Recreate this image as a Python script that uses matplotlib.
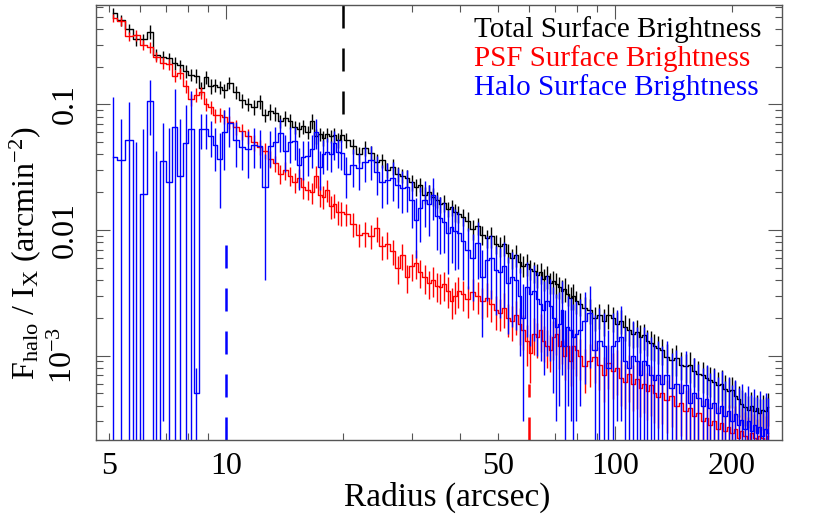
import matplotlib
matplotlib.use('Agg')
import matplotlib.pyplot as plt
from matplotlib.ticker import LogLocator, FuncFormatter, NullFormatter, FixedLocator

plt.rcParams['font.family'] = ['Liberation Serif', 'DejaVu Serif']
plt.rcParams['mathtext.fontset'] = 'custom'
plt.rcParams['mathtext.rm'] = 'Liberation Serif'
plt.rcParams['mathtext.it'] = 'Liberation Serif:italic'

# radial bin centres (arcsec)
radius = [
    5.12, 5.38, 5.62, 5.88, 6.12, 6.38, 6.62, 6.88, 7.12, 7.38,
    7.62, 7.88, 8.12, 8.38, 8.62, 8.88, 9.12, 9.38, 9.62, 9.88,
    10.2, 10.6, 11.0, 11.4, 11.8, 12.2, 12.6, 13.0, 13.4, 13.8, 14.2, 14.6, 15.0,
    15.4, 15.8, 16.2, 16.6, 17.0, 17.4, 17.8, 18.2, 18.6, 19.0, 19.4, 19.8,
    20.4, 21.2, 22.0, 22.8, 23.6, 24.4, 25.2, 26.0, 26.8, 27.6, 28.4, 29.2, 30.0,
    30.8, 31.6, 32.4, 33.2, 34.0, 34.8, 35.6, 36.4, 37.2, 38.0, 38.8, 39.6,
    40.6, 41.9, 43.1, 44.4, 45.6, 46.9, 48.1, 49.4, 50.6, 51.9, 53.1, 54.4, 55.6,
    56.9, 58.1, 59.4, 60.6, 61.9, 63.1, 64.4, 65.6, 66.9, 68.1, 69.4, 70.6, 71.9,
    73.1, 74.4, 75.6, 76.9, 78.1, 79.4,
    81.2, 83.8, 86.2, 88.8, 91.2, 93.8, 96.2, 98.8, 101.2, 103.8,
    106.2, 108.8, 111.2, 113.8, 116.2, 118.8, 121.2, 123.8, 126.2, 128.8,
    132, 136, 140, 144, 148, 152, 156, 160, 164, 168, 172, 176, 180, 184, 188,
    192, 196, 200, 204, 208, 212, 216, 220, 224, 228, 232, 236, 240, 244, 248,
]

# total surface brightness and fractional errors
total_sb = [
    0.54, 0.47, 0.40, 0.33, 0.33, 0.38, 0.25, 0.24, 0.235, 0.215,
    0.205, 0.185, 0.172, 0.17, 0.135, 0.165, 0.14, 0.142, 0.138, 0.13,
    0.148, 0.125, 0.108, 0.100, 0.096, 0.106, 0.082, 0.088, 0.085, 0.074, 0.078, 0.074, 0.066,
    0.064, 0.067, 0.060, 0.074, 0.056, 0.058, 0.054, 0.058, 0.056, 0.057, 0.052, 0.057,
    0.052, 0.047, 0.040, 0.045, 0.041, 0.035, 0.036, 0.030, 0.032, 0.028, 0.027, 0.026, 0.024,
    0.022, 0.023, 0.019, 0.020, 0.0185, 0.0175, 0.016, 0.0165, 0.0148, 0.0152, 0.0138, 0.0135,
    0.0128, 0.0118, 0.0102, 0.0108, 0.0092, 0.0086, 0.0089, 0.0078, 0.0074, 0.0077, 0.0066, 0.0060,
    0.0063, 0.0056, 0.0052, 0.0054, 0.0049, 0.0047, 0.0044, 0.0046, 0.0041, 0.0043, 0.0038, 0.0039,
    0.0037, 0.0035, 0.0033, 0.0034, 0.0031, 0.0029, 0.0030, 0.0027,
    0.0026, 0.0024, 0.0023, 0.0020, 0.0021, 0.0019, 0.0021, 0.0020, 0.0018, 0.0019,
    0.0017, 0.0016, 0.0015, 0.00155, 0.0014, 0.00145, 0.0013, 0.00125, 0.0012, 0.00115,
    0.0011, 0.00098, 0.00092, 0.00095, 0.00085, 0.00082, 0.00084, 0.00076, 0.00072, 0.00070,
    0.00066, 0.00064, 0.00062, 0.00058, 0.00060, 0.00054, 0.00052, 0.00053, 0.00048, 0.00045,
    0.00041, 0.00039, 0.00037, 0.00040, 0.00036, 0.00038, 0.00035, 0.00037, 0.00036, 0.00039,
]
total_frac_err = [
    0.09, 0.10, 0.09, 0.11, 0.10, 0.12, 0.10, 0.11, 0.10, 0.12,
    0.11, 0.12, 0.11, 0.13, 0.12, 0.12, 0.13, 0.12, 0.12, 0.13,
    0.11, 0.12, 0.13, 0.12, 0.14, 0.13, 0.12, 0.14, 0.13, 0.12, 0.14, 0.13, 0.12,
    0.14, 0.13, 0.12, 0.14, 0.13, 0.12, 0.14, 0.13, 0.12, 0.14, 0.13, 0.12,
    0.13, 0.14, 0.15, 0.13, 0.14, 0.15, 0.13, 0.14, 0.15, 0.14, 0.13, 0.15, 0.14,
    0.15, 0.13, 0.15, 0.14, 0.16, 0.14, 0.15, 0.16, 0.14, 0.15, 0.16, 0.15,
    0.16, 0.17, 0.18, 0.16, 0.18, 0.17, 0.19, 0.17, 0.18, 0.19, 0.17, 0.18,
    0.20, 0.18, 0.19, 0.20, 0.18, 0.19, 0.21, 0.19, 0.20, 0.21, 0.19, 0.20,
    0.22, 0.20, 0.21, 0.22, 0.20, 0.21, 0.23, 0.21,
    0.21, 0.22, 0.23, 0.21, 0.22, 0.24, 0.22, 0.23, 0.24, 0.22,
    0.23, 0.25, 0.23, 0.24, 0.25, 0.23, 0.24, 0.26, 0.24, 0.25,
    0.24, 0.26, 0.25, 0.27, 0.25, 0.26, 0.28, 0.26, 0.27, 0.28,
    0.26, 0.27, 0.29, 0.27, 0.28, 0.29, 0.27, 0.28, 0.30, 0.28,
    0.29, 0.30, 0.28, 0.29, 0.31, 0.29, 0.30, 0.31, 0.29, 0.30,
]

# PSF surface brightness and fractional errors
psf_sb = [
    0.49, 0.46, 0.35, 0.355, 0.30, 0.285, 0.24, 0.215, 0.21, 0.17,
    0.178, 0.14, 0.11, 0.12, 0.125, 0.10, 0.095, 0.082, 0.083, 0.08,
    0.072, 0.066, 0.061, 0.056, 0.050, 0.046, 0.043, 0.037, 0.034, 0.028, 0.030, 0.027, 0.024,
    0.026, 0.022, 0.021, 0.020, 0.027, 0.019, 0.0185, 0.021, 0.0155, 0.016, 0.014, 0.0138,
    0.0135, 0.0112, 0.0092, 0.0095, 0.0090, 0.0104, 0.0074, 0.0078, 0.0068, 0.0050, 0.0063, 0.0042, 0.0052,
    0.0055, 0.0046, 0.0042, 0.0038, 0.0040, 0.0036, 0.0035, 0.0037, 0.0033, 0.0027, 0.0030, 0.0033,
    0.0031, 0.0028, 0.0032, 0.0030, 0.0027, 0.0029, 0.0026, 0.0023, 0.0022, 0.0024, 0.0020, 0.0019,
    0.0021, 0.0018, 0.0016, 0.0013, 0.00105, 0.0015, 0.0014, 0.0016, 0.0013, 0.0012, 0.0011, 0.0014,
    0.0015, 0.0012, 0.0013, 0.0010, 0.0012, 0.0009, 0.0012, 0.0011,
    0.0010, 0.00082, 0.0009, 0.00097, 0.00085, 0.0007, 0.00088, 0.00075, 0.0008, 0.00066,
    0.00062, 0.00072, 0.0006, 0.00065, 0.00055, 0.0006, 0.00052, 0.00058, 0.0005, 0.00047,
    0.00050, 0.00044, 0.00048, 0.00040, 0.00042, 0.00036, 0.00038, 0.00033, 0.00035, 0.00030,
    0.00032, 0.00028, 0.00030, 0.00026, 0.00029, 0.00025, 0.00027, 0.00024, 0.00026, 0.00022,
    0.00025, 0.00023, 0.00021, 0.00024, 0.00022, 0.00020, 0.00023, 0.00022, 0.00021, 0.00023,
]
psf_frac_err = [
    0.08, 0.09, 0.08, 0.10, 0.09, 0.10, 0.09, 0.11, 0.10, 0.11,
    0.10, 0.12, 0.11, 0.12, 0.11, 0.12, 0.12, 0.13, 0.12, 0.13,
    0.12, 0.13, 0.14, 0.13, 0.15, 0.14, 0.15, 0.16, 0.15, 0.17, 0.16, 0.17, 0.18,
    0.17, 0.19, 0.18, 0.19, 0.20, 0.19, 0.21, 0.20, 0.21, 0.22, 0.21, 0.22,
    0.20, 0.22, 0.21, 0.23, 0.22, 0.23, 0.22, 0.24, 0.23, 0.25, 0.24, 0.25, 0.24,
    0.26, 0.25, 0.26, 0.25, 0.27, 0.26, 0.27, 0.26, 0.28, 0.27, 0.28, 0.27,
    0.27, 0.29, 0.28, 0.29, 0.28, 0.30, 0.29, 0.30, 0.29, 0.31, 0.30, 0.31,
    0.30, 0.32, 0.31, 0.36, 0.42, 0.32, 0.31, 0.33, 0.32, 0.34, 0.33, 0.34,
    0.33, 0.35, 0.34, 0.36, 0.35, 0.36, 0.35, 0.37,
    0.36, 0.38, 0.37, 0.38, 0.37, 0.39, 0.38, 0.40, 0.39, 0.40,
    0.39, 0.41, 0.40, 0.42, 0.41, 0.42, 0.41, 0.43, 0.42, 0.44,
    0.43, 0.45, 0.44, 0.46, 0.45, 0.47, 0.46, 0.48, 0.47, 0.49,
    0.48, 0.50, 0.49, 0.51, 0.50, 0.52, 0.51, 0.53, 0.52, 0.54,
    0.53, 0.55, 0.54, 0.56, 0.55, 0.57, 0.56, 0.58, 0.57, 0.59,
]

# halo surface brightness (total - PSF, can go negative) and absolute errors
halo_sb = [
    0.038, 0.036, 0.052, -0.010, 0.0194, 0.107, -0.005, 0.0355, 0.024, 0.066,
    0.027, 0.049, 0.064, 0.0005, 0.064, 0.064, 0.056, 0.0475, 0.037, 0.060,
    0.071, 0.052, 0.046, 0.044, 0.048, 0.047, 0.022, 0.047, 0.050, 0.059, 0.043, 0.050, 0.051,
    0.033, 0.038, 0.039, 0.044, 0.060, 0.032, 0.040, 0.042, 0.040, 0.049, 0.042, 0.041,
    0.028, 0.033, 0.031, 0.035, 0.036, 0.029, 0.024, 0.025, 0.026, 0.023, 0.0217, 0.022, 0.0174,
    0.012, 0.015, 0.0175, 0.016, 0.019, 0.013, 0.0125, 0.0116, 0.0095, 0.0105, 0.0098, 0.0094,
    0.0082, 0.0069, 0.0060, 0.0079, 0.0042, 0.0058, 0.0060, 0.0048, 0.0046, 0.0052, 0.0038, 0.0042,
    0.0040, 0.0030, 0.0020, 0.0035, 0.0031, 0.0033, 0.0028, 0.0026, 0.0023, 0.0027, 0.0025, 0.0020,
    0.0017, 0.0018, 0.0023, 0.0012, 0.0017, 0.0016, 0.0014, 0.0015,
    0.0016, 0.0019, 0.0022, 0.0011, 0.0013, 0.0012, 0.0008, 0.0012, 0.0013, 0.0014,
    0.0009, 0.0008, 0.0010, 0.0009, 0.0007, 0.0009, 0.00085, 0.0007, 0.00064, 0.0007,
    0.0006, 0.0007, 0.00055, 0.0006, 0.0005, 0.00058, 0.00042, 0.0005, 0.00046, 0.0004,
    0.00045, 0.00038, 0.00042, 0.00035, 0.0004, 0.00033, 0.00036, 0.0003, 0.00034, 0.00028,
    0.00031, 0.00026, 0.0003, 0.00025, 0.00028, 0.00024, 0.00027, 0.00023, 0.00026, 0.00024,
]
halo_err = [
    0.077, 0.040, 0.053, 0.060, 0.044, 0.050, 0.048, 0.0352, 0.041, 0.068,
    0.050, 0.050, 0.065, 0.0003, 0.020, 0.020, 0.018, 0.018, 0.022, 0.030,
    0.025, 0.020, 0.016, 0.018, 0.017, 0.016, 0.018, 0.015, 0.016, 0.017, 0.014, 0.016, 0.015,
    0.012, 0.013, 0.012, 0.013, 0.016, 0.011, 0.012, 0.012, 0.011, 0.013, 0.011, 0.011,
    0.010, 0.011, 0.010, 0.011, 0.011, 0.010, 0.009, 0.009, 0.009, 0.008, 0.008, 0.008, 0.007,
    0.006, 0.007, 0.007, 0.007, 0.007, 0.006, 0.006, 0.005, 0.005, 0.005, 0.005, 0.0045,
    0.0042, 0.0035, 0.0033, 0.0038, 0.0028, 0.0031, 0.0032, 0.0027, 0.0026, 0.0028, 0.0023, 0.0025,
    0.0024, 0.0020, 0.0017, 0.0021, 0.0019, 0.0020, 0.0018, 0.0017, 0.0016, 0.0017, 0.0016, 0.0015,
    0.0014, 0.0014, 0.0016, 0.0011, 0.0013, 0.0013, 0.0012, 0.0012,
    0.0012, 0.0013, 0.0014, 0.0010, 0.0011, 0.0010, 0.0008, 0.0010, 0.0010, 0.0011,
    0.0008, 0.0008, 0.0009, 0.0008, 0.0007, 0.0008, 0.0007, 0.0007, 0.0006, 0.0006,
    0.0006, 0.0006, 0.0005, 0.0005, 0.0005, 0.0005, 0.0004, 0.00045, 0.0004, 0.0004,
    0.0004, 0.00035, 0.00037, 0.00033, 0.00035, 0.0003, 0.00032, 0.00028, 0.0003, 0.00027,
    0.00028, 0.00025, 0.00027, 0.00024, 0.00026, 0.00023, 0.00025, 0.00022, 0.00024, 0.00022,
]

for arr in (total_sb, total_frac_err, psf_sb, psf_frac_err, halo_sb, halo_err):
    assert len(arr) == len(radius), len(arr)

labels = ['Total Surface Brightness', 'PSF Surface Brightness', 'Halo Surface Brightness']
colors = ['black', '#ff0000', '#0000ff']

total_err = [v * f for v, f in zip(total_sb, total_frac_err)]
psf_err = [v * f for v, f in zip(psf_sb, psf_frac_err)]

# reference radii marked with dashed lines
r_total_mark, r_halo_mark, r_psf_mark = 20, 10, 60

fig = plt.figure(figsize=(8.3, 5.18), dpi=100)
ax = fig.add_axes([0.1157, 0.1506, 0.8265, 0.8398])
ax.set_xscale('log')
ax.set_yscale('log')
xmin, xmax = 4.63, 269
ymin, ymax = 2.13e-4, 0.62
ax.set_xlim(xmin, xmax)
ax.set_ylim(ymin, ymax)

for vals, errs, c in [(total_sb, total_err, colors[0]),
                      (psf_sb, psf_err, colors[1]),
                      (halo_sb, halo_err, colors[2])]:
    ax.plot(radius, vals, drawstyle='steps-mid', color=c, lw=1.0)
    ax.errorbar(radius, vals, yerr=errs, fmt='none', ecolor=c, elinewidth=1.0, capsize=0)

ax.plot([r_total_mark, r_total_mark], [ymax, 0.08], color='black', lw=1.8, dashes=(9.2, 8))
ax.plot([r_halo_mark, r_halo_mark], [ymin, 0.01], color='#0000ff', lw=1.8, dashes=(9.2, 8))
ax.plot([r_psf_mark, r_psf_mark], [ymin, 6e-4], color='#ff0000', lw=1.8, dashes=(9.2, 8))

for i, (lab, c) in enumerate(zip(labels, colors)):
    ax.text(0.551, 0.926 - i * 0.067, lab, color=c, fontsize=21,
            transform=ax.transAxes, va='baseline', ha='left')

# ticks
spine_col = '#555555'
for s in ax.spines.values():
    s.set_color(spine_col)
    s.set_linewidth(1.0)
ax.xaxis.set_major_locator(FixedLocator([10, 100]))
ax.xaxis.set_major_formatter(FuncFormatter(lambda v, p: '%d' % round(v)))
ax.xaxis.set_minor_locator(LogLocator(base=10, subs=range(2, 10), numticks=20))
ax.xaxis.set_minor_formatter(FuncFormatter(
    lambda v, p: '%d' % round(v) if round(v) in (5, 50, 200) else ''))
ax.yaxis.set_major_locator(FixedLocator([1e-3, 1e-2, 1e-1]))
ax.yaxis.set_major_formatter(FuncFormatter(
    lambda v, p: {1e-3: r'$10^{-3}$', 1e-2: '0.01', 1e-1: '0.1'}.get(v, '')))
ax.yaxis.set_minor_locator(LogLocator(base=10, subs=range(2, 10), numticks=20))
ax.yaxis.set_minor_formatter(NullFormatter())

ax.tick_params(which='both', direction='in', top=True, right=True,
               color=spine_col, width=0.8, labelsize=23)
ax.tick_params(which='major', length=10)
ax.tick_params(which='minor', length=5)
ax.tick_params(axis='x', which='both', pad=9)
ax.tick_params(axis='y', which='both', pad=12, labelrotation=90)
for lbl in ax.get_yticklabels():
    lbl.set_va('center')

ax.set_xlabel('Radius (arcsec)', fontsize=24)
ax.xaxis.set_label_coords(0.512, -0.097)
ax.xaxis.label.set_va('top')
ax.set_ylabel(r'F$_{\mathrm{halo}}$ / I$_{\mathrm{X}}$ (arcmin$^{-2}$)', fontsize=23)
ax.yaxis.set_label_coords(-0.078, 0.43)

fig.savefig('out.png', dpi=100)
